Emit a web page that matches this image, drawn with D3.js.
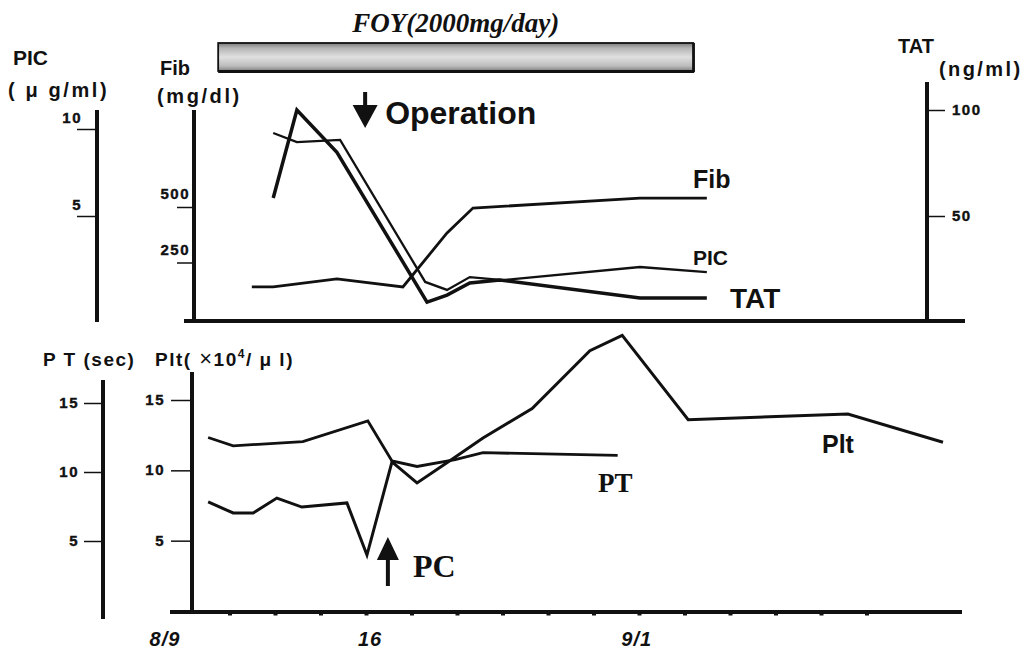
<!DOCTYPE html>
<html><head><meta charset="utf-8">
<script src="https://cdn.jsdelivr.net/npm/d3@7"></script>
<style>body{margin:0;background:#fff}svg{display:block}</style>
</head><body><svg id="c" width="1035" height="652"></svg>
<script>
// ---------- data (x in tick-interval units from 8/9) ----------
const fibT = [1.48, 1.95, 3.35, 4.80, 5.77, 6.34, 10.01, 11.48];
const fibV = [140, 140, 176, 140, 383, 495, 540, 540];
const tatT = [1.95, 2.47, 3.35, 5.33, 5.77, 6.27, 6.93, 10.01, 11.48];
const tatV = [58.5, 100, 80, 9.4, 12.7, 18.4, 19.8, 11.3, 11.3];
const picT = [1.95, 2.47, 3.42, 5.29, 5.77, 6.27, 7.0, 10.01, 11.48];
const picV = [9.77, 9.25, 9.37, 1.21, 0.75, 1.49, 1.32, 2.07, 1.78];
const ptT = [0.52, 1.07, 2.60, 4.03, 4.56, 5.11, 5.95, 6.56, 9.52];
const ptV = [12.5, 11.9, 12.2, 13.7, 10.8, 10.4, 10.9, 11.4, 11.2];
const pltT = [0.52, 1.07, 1.51, 2.03, 2.58, 3.57, 4.01, 4.56, 5.11, 5.84, 6.56, 7.64, 8.91, 9.62, 11.07, 14.58, 16.67];
const pltV = [7.75, 6.97, 6.97, 8.03, 7.39, 7.68, 3.98, 10.6, 9.10, 10.7, 12.3, 14.4, 18.5, 19.6, 13.6, 14.0, 12.0];
const dateLabels = ["8/9", "16", "9/1"];
const datePos = [-0.43, 4.08, 9.94];
const minorTicks = [1,2,3,4,5,6,7,8,9,10,11,12,13,14,15];
const picTicks = [5, 10];
const fibTicks = [250, 500];
const tatTicks = [50, 100];
const ptTicks = [5, 10, 15];
const pltTicks = [5, 10, 15];
const foyPeriod = [0.74, 11.18];
const operationPos = 3.97;
const pcPos = 4.47;

// ---------- scales ----------
const svg = d3.select("#c");
const x = d3.scaleLinear().domain([0, 17]).range([184.5, 958]);
const yFib = d3.scaleLinear().domain([0, 500]).range([318, 207]);
const yTat = d3.scaleLinear().domain([0, 100]).range([322, 110]);
const yPic = d3.scaleLinear().domain([0, 10]).range([303, 129]);
const yPlt = d3.scaleLinear().domain([0, 15]).range([611, 400]);
const yPt = d3.scaleLinear().domain([0, 15]).range([610, 403]);

const sans = "'Liberation Sans', Arial, Helvetica, sans-serif";
const serif = "'Liberation Serif', 'Times New Roman', serif";

function line(x1, y1, x2, y2, w) {
  svg.append("line").attr("x1", x1).attr("y1", y1).attr("x2", x2).attr("y2", y2)
    .attr("stroke", "#111").attr("stroke-width", w);
}
function text(t, xx, yy, size, opts = {}) {
  return svg.append("text").attr("x", xx).attr("y", yy)
    .attr("font-family", opts.family || sans)
    .attr("font-size", size)
    .attr("font-weight", opts.weight || "bold")
    .attr("font-style", opts.style || "normal")
    .attr("letter-spacing", opts.ls || 0)
    .attr("text-anchor", opts.anchor || "start")
    .attr("fill", "#111").text(t);
}

// ---------- FOY bar ----------
const defs = svg.append("defs");
const grad = defs.append("linearGradient").attr("id", "foy").attr("x1", 0).attr("y1", 0).attr("x2", 0).attr("y2", 1);
[[0, "#7a7a7a"], [0.18, "#b4b4b4"], [0.5, "#e0e0e0"], [0.82, "#bcbcbc"], [1, "#808080"]]
  .forEach(([o, c]) => grad.append("stop").attr("offset", o).attr("stop-color", c));
svg.append("rect").attr("x", x(foyPeriod[0])).attr("y", 43)
  .attr("width", x(foyPeriod[1]) - x(foyPeriod[0])).attr("height", 28)
  .attr("fill", "url(#foy)").attr("stroke", "#111").attr("stroke-width", 1.8);
line(x(foyPeriod[0]), 71.5, x(foyPeriod[1]) + 1, 71.5, 3);
line(x(foyPeriod[1]) + 0.5, 43, x(foyPeriod[1]) + 0.5, 72, 2.5);
text("FOY(2000mg/day)", (x(foyPeriod[0]) + x(foyPeriod[1])) / 2, 32, 27, {family: serif, style: "italic", anchor: "middle"});

// ---------- axes (top panel) ----------
line(97, 110, 97, 322, 4);      // PIC axis
line(194, 110, 194, 323, 4);    // Fib axis
line(927, 82, 927, 322, 4);     // TAT axis
line(184, 321, 965, 321, 4);    // baseline top

function tickLabels(scale, ticks, lx, dy, anchor) {
  svg.append("g").selectAll("text").data(ticks).join("text")
    .attr("x", lx).attr("y", d => scale(d) + dy)
    .attr("text-anchor", anchor).attr("font-family", sans).attr("font-weight", "bold")
    .attr("font-size", 15).attr("letter-spacing", 1.5).attr("fill", "#111")
    .attr("stroke", "#111").attr("stroke-width", 0.4).text(d => d);
}
function ticksLeft(scale, ticks, ax, len, lx, dy) {
  svg.append("g").attr("transform", `translate(${ax - 1},0)`)
    .call(d3.axisLeft(scale).tickValues(ticks).tickSize(len).tickFormat(""))
    .call(g => g.select(".domain").remove())
    .call(g => g.selectAll("line").attr("stroke", "#111").attr("stroke-width", 1.5));
  tickLabels(scale, ticks, lx, dy, "end");
}
function ticksRight(scale, ticks, ax, len, lx, dy) {
  svg.append("g").attr("transform", `translate(${ax + 1},0)`)
    .call(d3.axisRight(scale).tickValues(ticks).tickSize(len).tickFormat(""))
    .call(g => g.select(".domain").remove())
    .call(g => g.selectAll("line").attr("stroke", "#111").attr("stroke-width", 1.5));
  tickLabels(scale, ticks, lx, dy, "start");
}
ticksLeft(yPic, picTicks, 97, 19, 82, -6);
ticksLeft(yFib, fibTicks, 194, 16, 190, -8);
ticksRight(yTat, tatTicks, 927, 17, 952, 5);

// axis titles (top)
text("PIC", 13, 65, 21);
text("( \u03bc g/ml)", 8, 97, 20, {ls: 2.6});
text("Fib", 160, 75, 20);
text("(mg/dl)", 157, 103, 20, {ls: 2.6});
text("TAT", 898, 53, 20);
text("(ng/ml)", 939, 76, 20, {ls: 2.4});

// ---------- axes (bottom panel) ----------
line(103, 380, 103, 619, 4);    // PT axis
line(192, 372, 192, 613, 4);    // Plt axis
line(170, 612, 962, 612, 4);    // baseline bottom
ticksLeft(yPt, ptTicks, 103, 18, 79, 5);
ticksLeft(yPlt, pltTicks, 192, 20, 165, 5);
svg.append("g").selectAll("rect").data(minorTicks).join("rect")
  .attr("x", d => x(d) - 2).attr("y", 612).attr("width", 4).attr("height", 3.5).attr("fill", "#111");
svg.append("g").selectAll("text").data(dateLabels).join("text")
  .attr("x", (d, i) => x(datePos[i])).attr("y", 646)
  .attr("text-anchor", "middle").attr("font-family", sans).attr("font-weight", "bold")
  .attr("font-style", "italic").attr("font-size", 20).attr("letter-spacing", 1).attr("fill", "#111").text(d => d);

text("P T (sec)", 43, 366, 19, {ls: 1.5});
const pltTitle = text("Plt(", 155, 366, 19, {ls: 1.5});
pltTitle.append("tspan").attr("font-weight", "normal").attr("font-size", 22).text(" \u00d7");
pltTitle.append("tspan").text("10");
pltTitle.append("tspan").attr("dy", -8).attr("font-size", 12).text("4");
pltTitle.append("tspan").attr("dy", 8).text("/ \u03bc l)");

// ---------- series ----------
function series(T, V, ys, w) {
  const pts = d3.zip(T, V);
  svg.append("path").datum(pts)
    .attr("d", d3.line().x(d => x(d[0])).y(d => ys(d[1])))
    .attr("fill", "none").attr("stroke", "#111").attr("stroke-width", w)
    .attr("stroke-linejoin", "miter");
}
series(fibT, fibV, yFib, 2.8);
series(picT, picV, yPic, 2.3);
series(tatT, tatV, yTat, 3.5);
series(ptT, ptV, yPt, 2.8);
series(pltT, pltV, yPlt, 3);

// series labels
text("Fib", 693, 188, 25);
text("PIC", 693, 265, 21);
text("TAT", 730, 308, 28);
text("PT", 598, 492, 27, {family: serif});
text("Plt", 822, 453, 25);

// ---------- annotations ----------
const ox = x(operationPos);
svg.append("path").attr("d", `M${ox - 2},92 L${ox + 2},92 L${ox + 2},105 L${ox + 12.5},105 L${ox},128 L${ox - 12.5},105 L${ox - 2},105 Z`).attr("fill", "#111");
text("Operation", ox + 20, 124, 32);

const px = x(pcPos);
svg.append("path").attr("d", `M${px - 2},586 L${px + 2},586 L${px + 2},560 L${px + 11},560 L${px},537 L${px - 11},560 L${px - 2},560 Z`).attr("fill", "#111");
text("PC", 413, 577, 32, {family: serif});
</script>
</body></html>
